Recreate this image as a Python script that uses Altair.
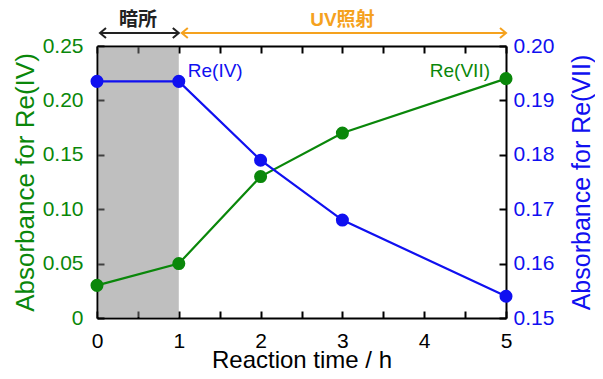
import altair as alt
import pandas as pd

# ---- data ----
time_h = [0, 1, 2, 3, 5]
green_abs = [0.03, 0.05, 0.13, 0.17, 0.22]          # left axis (green)
blue_abs = [0.1935, 0.1935, 0.179, 0.168, 0.154]     # right axis (blue)

x_ticks = [0, 0.5, 1, 1.5, 2, 2.5, 3, 3.5, 4, 4.5, 5]
left_ticks = [0, 0.05, 0.10, 0.15, 0.20, 0.25]
right_ticks = [0.15, 0.16, 0.17, 0.18, 0.19, 0.20]

phase_start = [0, 1]
phase_end = [1, 5]
phase_label = ["暗所", "UV照射"]
phase_color = ["#222222", "#F5A21E"]

GREEN = "#0A870A"
BLUE = "#1010F0"
W, H = 409, 272
TICK = 7
INWARD = {"expr": f"-{TICK}"}   # negative tick size -> ticks point into the plot
FONT = "Liberation Sans"
CJK = "Liberation Sans, Noto Sans CJK JP"

df = pd.DataFrame({"t": time_h, "g": green_abs, "b": blue_abs})
shade = pd.DataFrame({"x0": [phase_start[0]], "x1": [phase_end[0]]})
phases = pd.DataFrame({"s": phase_start, "e": phase_end,
                       "label": phase_label, "color": phase_color})
left_heads = pd.DataFrame({"x": phase_start, "color": phase_color})
right_heads = pd.DataFrame({"x": phase_end, "color": phase_color})

x_scale = alt.Scale(domain=[0, 5], nice=False, zero=False)
y_left = alt.Scale(domain=[0, 0.25], nice=False)
y_right = alt.Scale(domain=[0.15, 0.20], nice=False, zero=False)

tick_common = dict(ticks=True, tickSize=INWARD, tickWidth=2, tickColor="black",
                   domain=True, domainColor="black", domainWidth=2, grid=False, zindex=0)

# gray "dark" region (semi-transparent so the ticks below it stay visible) + bottom axis
shade_layer = alt.Chart(shade).mark_rect(
    color="#808080", opacity=0.5, xOffset=1, yOffset=1, y2Offset=-1
).encode(
    x=alt.X("x0:Q", scale=x_scale, axis=alt.Axis(
        orient="bottom", values=x_ticks,
        labelExpr="datum.value % 1 == 0 ? format(datum.value, 'd') : ''",
        labelFlush=False, labelOverlap=False,
        labelFontSize=21, labelPadding=12 + TICK, labelColor="black", labelFont=FONT,
        title="Reaction time / h",
        titleFontSize=24, titleFont=FONT, titleFontWeight="normal", titleColor="black",
        titleBaseline="alphabetic", titleY=49, **tick_common)),
    x2="x1:Q",
    y=alt.value(0),
    y2=alt.value(H),
)

green_line = alt.Chart(df).mark_line(color=GREEN, strokeWidth=2.2).encode(
    x=alt.X("t:Q", scale=x_scale, axis=None),
    y=alt.Y("g:Q", scale=y_left, axis=alt.Axis(
        orient="left", values=left_ticks,
        labelExpr="datum.value == 0 ? '0' : format(datum.value, '.2f')",
        labelColor=GREEN, labelFontSize=21, labelPadding=14 + TICK, labelFont=FONT,
        title="Absorbance for Re(IV)", titleColor=GREEN, titleFontSize=26,
        titleFont=FONT, titleFontWeight="normal", titleAngle=270,
        titleX=-64, titleY=H / 2, titleBaseline="alphabetic", titleAlign="center",
        **tick_common)),
)

blue_line = alt.Chart(df).mark_line(color=BLUE, strokeWidth=2.2).encode(
    x=alt.X("t:Q", scale=x_scale, axis=alt.Axis(
        orient="top", values=x_ticks, labels=False, title=None, **tick_common)),
    y=alt.Y("b:Q", scale=y_right, axis=alt.Axis(
        orient="right", values=right_ticks, format=".2f",
        labelColor=BLUE, labelFontSize=21, labelPadding=7 + TICK, labelFont=FONT,
        title="Absorbance for Re(VII)", titleColor=BLUE, titleFontSize=25,
        titleFont=FONT, titleFontWeight="normal", titleAngle=270,
        titleX=83, titleY=H / 2, titleBaseline="alphabetic", titleAlign="center",
        **tick_common)),
)

green_pts = alt.Chart(df).mark_circle(color=GREEN, size=170, opacity=1).encode(
    x=alt.X("t:Q", scale=x_scale, axis=None),
    y=alt.Y("g:Q", scale=y_left, axis=None),
)

blue_pts = alt.Chart(df).mark_circle(color=BLUE, size=170, opacity=1).encode(
    x=alt.X("t:Q", scale=x_scale, axis=None),
    y=alt.Y("b:Q", scale=y_right, axis=None),
)

blue_label = alt.Chart(df).transform_filter("datum.t == 1").mark_text(
    text="Re(IV)", align="left", baseline="middle", dx=9, dy=-10,
    color=BLUE, fontSize=19, font=FONT
).encode(
    x=alt.X("t:Q", scale=x_scale, axis=None),
    y=alt.Y("b:Q", scale=y_right, axis=None),
)

green_label = alt.Chart(df).transform_filter("datum.t == 5").mark_text(
    text="Re(VII)", align="right", baseline="middle", dx=-16, dy=-8,
    color=GREEN, fontSize=19, font=FONT
).encode(
    x=alt.X("t:Q", scale=x_scale, axis=None),
    y=alt.Y("g:Q", scale=y_left, axis=None),
)

# header arrows and labels
arrow_rules = alt.Chart(phases).mark_rule(strokeWidth=2, xOffset=3).encode(
    x=alt.X("s:Q", scale=x_scale, axis=None),
    x2="e:Q",
    y=alt.value(-13),
    color=alt.Color("color:N", scale=None),
)

chevron = "M-1.2,-1L0,0L-1.2,1"
heads_left = alt.Chart(left_heads).mark_point(
    shape=chevron, filled=False, strokeWidth=2, size=100, opacity=1, angle=180, xOffset=3
).encode(
    x=alt.X("x:Q", scale=x_scale, axis=None),
    y=alt.value(-13),
    color=alt.Color("color:N", scale=None),
)
heads_right = alt.Chart(right_heads).mark_point(
    shape=chevron, filled=False, strokeWidth=2, size=100, opacity=1, angle=0
).encode(
    x=alt.X("x:Q", scale=x_scale, axis=None),
    y=alt.value(-13),
    color=alt.Color("color:N", scale=None),
)

phase_text = alt.Chart(phases).transform_calculate(
    mid="(datum.s + datum.e) / 2"
).mark_text(fontSize=19, fontWeight="bold", font=CJK, baseline="middle").encode(
    x=alt.X("mid:Q", scale=x_scale, axis=None),
    y=alt.value(-26),
    text="label:N",
    color=alt.Color("color:N", scale=None),
)

chart = alt.layer(
    shade_layer, green_line, blue_line, green_pts, blue_pts,
    blue_label, green_label, arrow_rules, heads_left, heads_right, phase_text,
).resolve_scale(
    y="independent"
).resolve_axis(
    x="independent", y="independent"
).properties(
    width=W, height=H,
    autosize=alt.AutoSizeParams(type="none"),
    padding={"left": 89, "top": 38, "right": 89, "bottom": 53},
).configure_view(stroke=None)

chart.save("out.html", embed_options={"renderer": "svg", "actions": False})
